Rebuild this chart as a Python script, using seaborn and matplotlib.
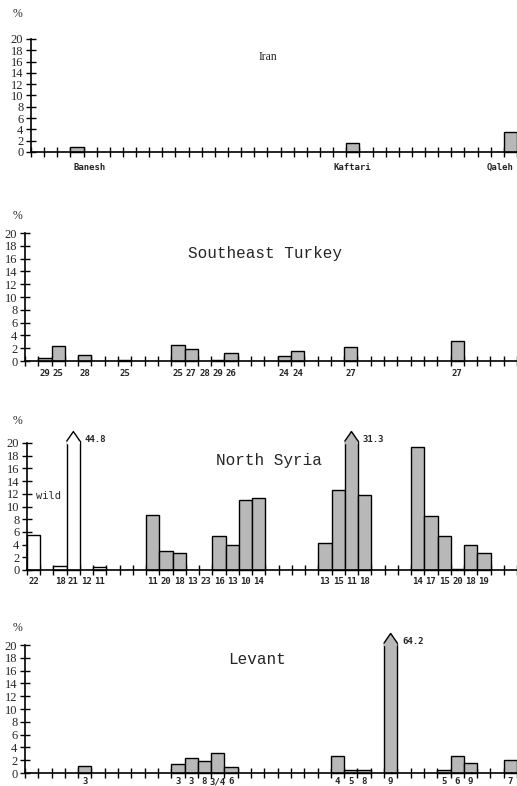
import numpy as np
import pandas as pd
import seaborn as sns
import matplotlib.pyplot as plt

# 37 time bins along every x axis
n_bins = 37
bins = list(range(n_bins))

iran_bins = [3, 24, 36]
iran_vals = [0.9, 1.6, 3.6]
iran_ticks = [4, 24, 35.2]
iran_labels = ['Banesh', 'Kaftari', 'Qaleh']

turkey_bins = [1, 2, 4, 7, 11, 12, 14, 15, 19, 20, 24, 32]
turkey_vals = [0.5, 2.4, 0.9, 0.1, 2.5, 1.8, 0.1, 1.3, 0.8, 1.5, 2.2, 3.2]
turkey_ticks = [1, 2, 4, 7, 11, 12, 13, 14, 15, 19, 20, 24, 32]
turkey_labels = ['29', '25', '28', '25', '25', '27', '28', '29', '26', '24', '24', '27', '27']

syria_bins = [0, 2, 3, 5, 9, 10, 11, 14, 15, 16, 17, 22, 23, 24, 25, 29, 30, 31, 32, 33, 34]
syria_vals = [5.5, 0.7, 44.8, 0.5, 8.7, 3.0, 2.6, 5.4, 3.9, 11.0, 11.3,
              4.3, 12.6, 31.3, 11.8, 19.4, 8.5, 5.4, 0.1, 3.9, 2.6]
syria_wild = [True, True, True, True] + [False] * 17
syria_ticks = [0, 2, 3, 4, 5, 9, 10, 11, 12, 13, 14, 15, 16, 17, 22, 23, 24, 25, 29, 30, 31, 32, 33, 34]
syria_labels = ['22', '18', '21', '12', '11', '11', '20', '18', '13', '23', '16', '13', '10', '14',
                '13', '15', '11', '18', '14', '17', '15', '20', '18', '19']

levant_bins = [4, 11, 12, 13, 14, 15, 23, 24, 25, 27, 31, 32, 33, 36]
levant_vals = [1.1, 1.4, 2.3, 1.8, 3.1, 1.0, 2.7, 0.5, 0.5, 64.2, 0.4, 2.7, 1.6, 2.1]
levant_ticks = [4, 11, 12, 13, 14, 15, 23, 24, 25, 27, 31, 32, 33, 36]
levant_labels = ['3', '3', '3', '8', '3/4', '6', '4', '5', '8', '9', '5', '6', '9', '7']

W, H = 517, 786
GRAY = '#b8b8b8'
CAP = 20.3

sns.set_style('white')
plt.rcParams['font.family'] = ['DejaVu Sans']

fig = plt.figure(figsize=(W / 100, H / 100), dpi=100)


def px_axes(left, base, height):
    # left/base in pixels from top-left, height in pixels
    return fig.add_axes([left / W, 1 - base / H, 1 - left / W, height / H])


def draw_panel(ax, b, v, ticks, labels, wild=None, pad=6):
    df = pd.DataFrame({'bin': b, 'value': v})
    df['shown'] = df['value'].clip(upper=CAP)
    df['kind'] = ['wild' if w else 'dom' for w in wild] if wild else 'dom'
    sns.barplot(data=df, x='bin', y='shown', hue='kind', order=bins,
                palette={'wild': 'white', 'dom': GRAY}, dodge=False, width=1,
                edgecolor='black', linewidth=1, legend=False, ax=ax)
    for p in ax.patches:
        p.set_clip_on(False)
    # pointed tops for off-scale bars
    for i, val in zip(df['bin'], df['value']):
        if val > 20:
            fc = 'white' if (wild and wild[list(b).index(i)]) else GRAY
            ax.fill([i - 0.45, i - 0.45, i, i + 0.45, i + 0.45],
                    [19.9, CAP, 21.8, CAP, 19.9], color=fc, zorder=5, clip_on=False)
            ax.plot([i - 0.5, i, i + 0.5], [CAP, 21.8, CAP], color='black', lw=1,
                    zorder=6, clip_on=False)
            ax.text(i + 0.85, 20.5, f'{val:.1f}', fontsize=6.5, va='center',
                    family='DejaVu Sans Mono', fontweight='bold')
    ax.set_xlim(-0.5, n_bins - 0.5)
    ax.set_ylim(0, 20)
    ax.set_yticks(range(0, 21, 2))
    ax.set_yticklabels([str(t) for t in range(0, 21, 2)], family='Liberation Serif', fontsize=9)
    ax.set_xticks(ticks)
    ax.set_xticklabels(labels, family='DejaVu Sans Mono', fontsize=6.5, fontweight='bold')
    ax.set_xticks(np.arange(-0.5, n_bins), minor=True)
    ax.tick_params(axis='x', which='major', bottom=True, length=0, pad=pad)
    ax.tick_params(axis='x', which='minor', bottom=True, direction='inout',
                   length=7, width=1, color='black')
    ax.tick_params(axis='y', which='major', left=True, direction='inout',
                   length=7, width=1, color='black', pad=2)
    ax.set_xlabel('')
    ax.set_ylabel('')
    sns.despine(ax=ax)
    for sp in ['left', 'bottom']:
        ax.spines[sp].set_color('black')
        ax.spines[sp].set_linewidth(1.2)
    ax.patch.set_alpha(0)


ax1 = px_axes(31, 152, 113)
draw_panel(ax1, iran_bins, iran_vals, iran_ticks, iran_labels, pad=8)
ax2 = px_axes(25, 361, 128)
draw_panel(ax2, turkey_bins, turkey_vals, turkey_ticks, turkey_labels, pad=6)
ax3 = px_axes(27, 570, 127)
draw_panel(ax3, syria_bins, syria_vals, syria_ticks, syria_labels, wild=syria_wild, pad=5)
ax4 = px_axes(25, 773, 128)
draw_panel(ax4, levant_bins, levant_vals, levant_ticks, levant_labels, pad=3)


def ftext(x, y, s, **kw):
    fig.text(x / W, 1 - y / H, s, **kw)


for y in [14, 216, 421, 628]:
    ftext(13, y, '%', fontsize=8.5, family='Liberation Serif', va='center')

ftext(268, 57, 'Iran', fontsize=8.5, family='Liberation Serif', ha='center', va='center')
ftext(265, 253, 'Southeast Turkey', fontsize=11.5, family='Liberation Mono', ha='center', va='center')
ftext(269, 460, 'North Syria', fontsize=11.5, family='Liberation Mono', ha='center', va='center')
ftext(257, 660, 'Levant', fontsize=11.5, family='Liberation Mono', ha='center', va='center')
ftext(36, 496, 'wild', fontsize=7.5, family='DejaVu Sans Mono', va='center')

fig.savefig('out.png', dpi=100)
